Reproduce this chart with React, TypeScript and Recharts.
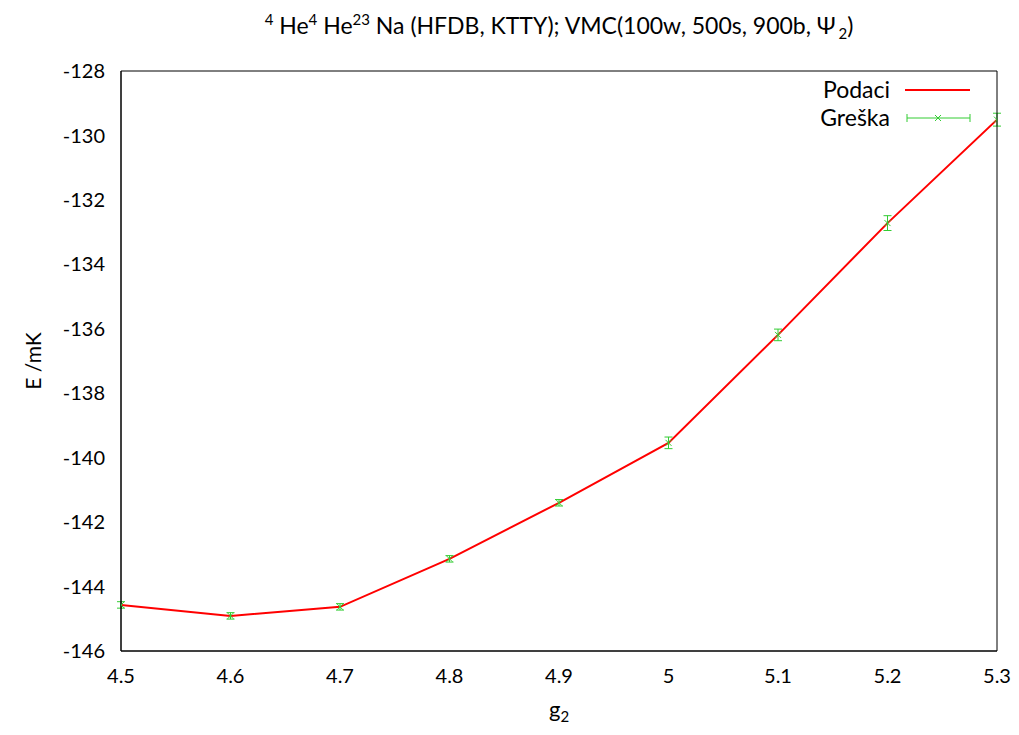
import { LineChart, Line, XAxis, YAxis, ErrorBar } from "recharts";

const gValues = [4.5, 4.6, 4.7, 4.8, 4.9, 5.0, 5.1, 5.2, 5.3];
const energies = [-144.57, -144.91, -144.63, -143.14, -141.4, -139.54, -136.19, -132.72, -129.51];
const errors = [0.1, 0.1, 0.1, 0.1, 0.1, 0.18, 0.18, 0.23, 0.2];
const xTicks = [4.5, 4.6, 4.7, 4.8, 4.9, 5.0, 5.1, 5.2, 5.3];
const yTicks = [-146, -144, -142, -140, -138, -136, -134, -132, -130, -128];
const xDomain = [4.5, 5.3];
const yDomain = [-146, -128];

const data = gValues.map((g, i) => ({ g, e: energies[i], err: errors[i] }));

const FONT = "Lato, sans-serif";
const RED = "#ff0000";
const GREEN = "#33cc33";

function Cross(props: any) {
  const { cx, cy } = props;
  if (cx == null || cy == null) return null;
  return (
    <g stroke={GREEN} strokeWidth={1}>
      <line x1={cx - 3} y1={cy - 3} x2={cx + 3} y2={cy + 3} />
      <line x1={cx - 3} y1={cy + 3} x2={cx + 3} y2={cy - 3} />
    </g>
  );
}

function LegendBox() {
  return (
    <svg
      width={200}
      height={60}
      style={{ position: "absolute", left: 800, top: 75, fontFamily: FONT, fontSize: 23 }}
    >
      <text x={90} y={23} textAnchor="end" fill="#000">Podaci</text>
      <line x1={105} y1={15} x2={170} y2={15} stroke={RED} strokeWidth={2} />
      <text x={90} y={51} textAnchor="end" fill="#000">Greška</text>
      <g stroke={GREEN} strokeWidth={1}>
        <line x1={107} y1={43} x2={170} y2={43} />
        <line x1={107} y1={39} x2={107} y2={47} />
        <line x1={170} y1={39} x2={170} y2={47} />
        <line x1={135} y1={40} x2={141} y2={46} />
        <line x1={135} y1={46} x2={141} y2={40} />
      </g>
    </svg>
  );
}

const sup = { fontSize: 15 };

export default function App() {
  return (
    <div style={{ position: "absolute", left: 0, top: 0, width: 1019, height: 735, background: "#fff", fontFamily: FONT }}>
      <div
        style={{
          position: "absolute",
          top: 10,
          left: 121,
          width: 876,
          textAlign: "center",
          fontSize: 23,
          color: "#000",
          whiteSpace: "nowrap",
        }}
      >
        <sup style={sup}>4</sup>&nbsp;He<sup style={sup}>4</sup>&nbsp;He<sup style={sup}>23</sup>&nbsp;Na (HFDB, KTTY); VMC(100w, 500s, 900b, Ψ&thinsp;<sub style={sup}>2</sub>)
      </div>
      <div
        style={{
          position: "absolute",
          left: 32,
          top: 361,
          transform: "translate(-50%, -50%) rotate(-90deg)",
          fontSize: 21,
          whiteSpace: "nowrap",
        }}
      >
        E /mK
      </div>
      <div style={{ position: "absolute", left: 559, top: 695, transform: "translateX(-50%)", fontSize: 22 }}>
        g<sub style={{ fontSize: 15 }}>2</sub>
      </div>
      <LineChart
        width={1019}
        height={735}
        data={data}
        margin={{ top: 71, right: 22, bottom: 0, left: 0 }}
        style={{ position: "absolute", left: 0, top: 0 }}
      >
        {/* labelled axes, tick lines drawn by the mirrored copies */}
        <XAxis
          dataKey="g"
          type="number"
          domain={xDomain}
          ticks={xTicks}
          height={84}
          stroke="#000"
          tickLine={false}
          tickSize={0}
          tickMargin={18}
          tick={{ fill: "#000", fontSize: 20, fontFamily: FONT }}
          tickFormatter={(v: number) => String(Number(v.toFixed(1)))}
          interval={0}
          allowDataOverflow
        />
        <YAxis
          type="number"
          domain={yDomain}
          ticks={yTicks}
          width={121}
          stroke="#000"
          tickLine={false}
          tickSize={0}
          tickMargin={16}
          tick={{ fill: "#000", fontSize: 20, fontFamily: FONT }}
          interval={0}
          allowDataOverflow
        />
        <XAxis xAxisId="bm" type="number" domain={xDomain} ticks={xTicks} mirror height={8}
          stroke="#000" tickSize={8} tick={false} interval={0} allowDataOverflow />
        <XAxis xAxisId="top" orientation="top" type="number" domain={xDomain} ticks={xTicks} mirror height={8}
          stroke="#000" tickSize={8} tick={false} interval={0} allowDataOverflow />
        <YAxis yAxisId="lm" type="number" domain={yDomain} ticks={yTicks} mirror width={8}
          stroke="#000" tickSize={8} tick={false} interval={0} allowDataOverflow />
        <YAxis yAxisId="right" orientation="right" type="number" domain={yDomain} ticks={yTicks} mirror width={8}
          stroke="#000" tickSize={8} tick={false} interval={0} allowDataOverflow />
        <Line
          dataKey="e"
          name="Podaci"
          stroke={RED}
          strokeWidth={2}
          dot={false}
          activeDot={false}
          isAnimationActive={false}
        />
        <Line
          dataKey="e"
          name="Greška"
          stroke="none"
          dot={<Cross />}
          activeDot={false}
          isAnimationActive={false}
        >
          <ErrorBar dataKey="err" width={4} stroke={GREEN} strokeWidth={1} isAnimationActive={false} />
        </Line>
      </LineChart>
      <LegendBox />
    </div>
  );
}
